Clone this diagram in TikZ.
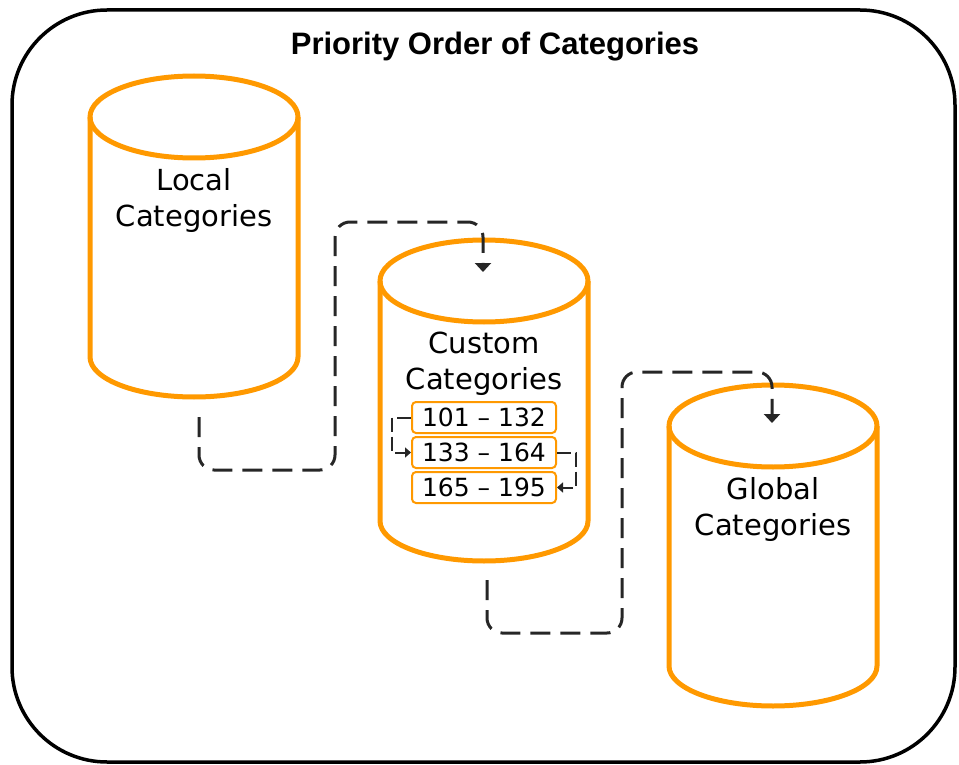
\documentclass[tikz,border=0pt]{standalone}
\usepackage{fontspec}
\setmainfont{DejaVu Sans}
\newfontfamily\titlefont{Liberation Sans}
\usetikzlibrary{arrows.meta}
\definecolor{cylorange}{HTML}{FF9900}
\definecolor{dashgray}{HTML}{262626}

\begin{document}
\begin{tikzpicture}[x=1pt,y=-1pt,
    cyl/.style={draw=cylorange,line width=5pt,line join=round},
    lbl/.style={align=center,font=\fontsize{29}{36}\selectfont},
    rangebox/.style={draw=cylorange,line width=2pt,rounded corners=4pt,
        minimum width=144pt,minimum height=31pt,inner sep=0pt,
        font=\fontsize{25}{30}\selectfont},
    flow/.style={draw=dashgray,line width=3pt,dash pattern=on 20pt off 10pt,
        rounded corners=15pt,-{Triangle[width=16pt,length=9pt]}},
    hop/.style={draw=dashgray,line width=2pt,dash pattern=on 14pt off 5pt,
        -{Triangle[width=10pt,length=6pt]}}]
    \useasboundingbox (0,0) rectangle (959,765);
    \draw[line width=3.5pt,rounded corners=95pt] (12,10) rectangle (955,762);
    \node[font={\titlefont\bfseries\fontsize{31}{36}\selectfont}] (title) at (495,47) {Priority Order of Categories};
    % the three stores
    \foreach \nm/\cx/\cy/\txt in {local/194/117/Local, custom/484/281/Custom, global/773/426/Global}{
        \draw[cyl] (\cx-104,\cy) -- (\cx-104,\cy+240)
            arc[start angle=180,end angle=0,x radius=104,y radius=40] -- (\cx+104,\cy);
        \draw[cyl] (\cx,\cy) ellipse[x radius=104,y radius=41];
        \node[lbl] (\nm) at (\cx,\cy+83) {\txt\\Categories};
    }
    % ranges inside the custom store
    \foreach \i/\rng in {1/101 -- 132, 2/133 -- 164, 3/165 -- 195}
        \node[rangebox] (range\i) at (484,382.5+35*\i) {\rng};
    \draw[hop] (range1.west) -- ++(-19,0) |- (range2.west);
    \draw[hop] (range2.east) -- ++(19,0) |- (range3.east);
    % order of lookup
    \coordinate (local-out) at (199,417);
    \coordinate (custom-in) at (483,272);
    \coordinate (custom-out) at (487,580);
    \coordinate (global-in) at (772,423);
    \draw[flow] (local-out) -- (199,470) -- (335,470) -- (335,222) -- (483,222) -- (custom-in);
    \draw[flow] (custom-out) -- (487,633) -- (622,633) -- (622,372) -- (772,372) -- (global-in);
\end{tikzpicture}
\end{document}
